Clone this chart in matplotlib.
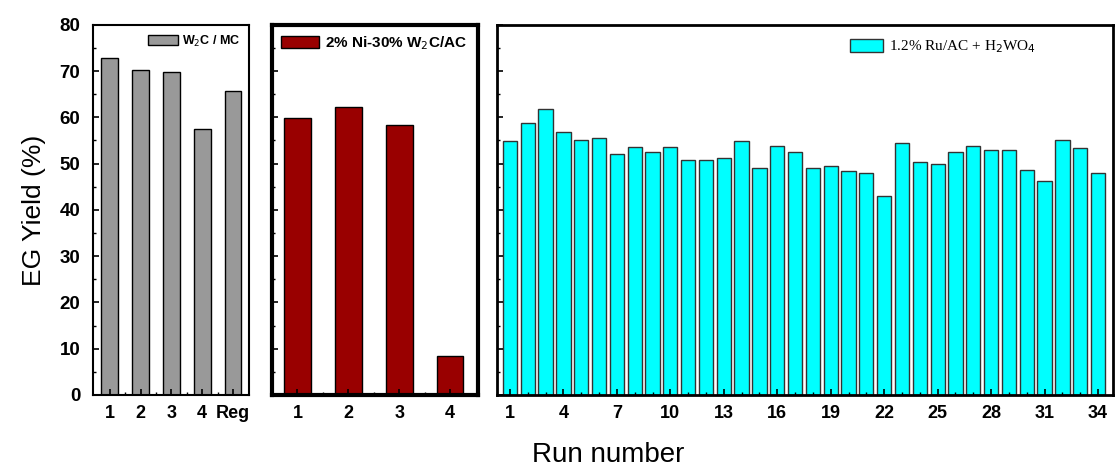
import numpy as np
import matplotlib.pyplot as plt
from matplotlib.ticker import MultipleLocator, FixedLocator

# data
wc_labels = ['1', '2', '3', '4', 'Reg']
wc_yield = [72.9, 70.3, 69.9, 57.4, 65.7]

ni_labels = ['1', '2', '3', '4']
ni_yield = [59.8, 62.3, 58.4, 8.5]

ru_runs = list(range(1, 35))
ru_yield = [54.9, 58.7, 61.9, 56.9, 55.2, 55.5, 52.0, 53.6, 52.6, 53.6,
            50.7, 50.7, 51.2, 54.9, 49.1, 53.9, 52.6, 49.0, 49.4, 48.3,
            47.9, 43.0, 54.4, 50.4, 49.9, 52.6, 53.9, 53.0, 53.0, 48.6,
            46.3, 55.2, 53.3, 47.9]

plt.rcParams['font.family'] = ['Liberation Sans', 'DejaVu Sans']

fig = plt.figure(figsize=(11.16, 4.68), dpi=100)
bottom, height = 0.156, 0.791
ax1 = fig.add_axes([0.0833, bottom, 0.1398, height])
ax2 = fig.add_axes([0.2437, bottom, 0.1846, height])
ax3 = fig.add_axes([0.4453, bottom, 0.5520, height])


def style(ax, lw):
    ax.set_ylim(0, 80)
    ax.yaxis.set_major_locator(MultipleLocator(10))
    ax.yaxis.set_minor_locator(MultipleLocator(5))
    ax.tick_params(which='both', direction='in', top=False, right=False)
    ax.tick_params(which='major', length=4, width=1.2)
    ax.tick_params(which='minor', length=2, width=1)
    ax.tick_params(axis='x', labelsize=13, pad=7)
    for s in ax.spines.values():
        s.set_linewidth(lw)
    for lab in ax.get_xticklabels():
        lab.set_fontweight('bold')


# panel 1: W2C/MC
x1 = np.arange(1, len(wc_yield) + 1)
ax1.bar(x1, wc_yield, width=0.55, color='#999999', edgecolor='black',
        linewidth=1, label='W$_2$C / MC')
ax1.set_xlim(0.45, 5.52)
ax1.set_xticks(x1)
ax1.set_xticklabels(wc_labels)
ax1.xaxis.set_minor_locator(FixedLocator(x1[:-1] + 0.5))
style(ax1, 1.5)
ax1.tick_params(axis='y', labelsize=13.5, pad=9)
for lab in ax1.get_yticklabels():
    lab.set_fontweight('bold')
ax1.set_ylabel('EG Yield (%)', fontsize=19, labelpad=10)
ax1.legend(loc='upper right', frameon=False, prop={'weight': 'bold', 'size': 9},
           handlelength=2.4, handleheight=0.9, handletextpad=0.3,
           borderaxespad=0.3)

# panel 2: Ni-W2C/AC
x2 = np.arange(1, len(ni_yield) + 1)
ax2.bar(x2, ni_yield, width=0.53, color='#990000', edgecolor='black',
        linewidth=1, label='2% Ni-30% W$_2$C/AC')
ax2.set_xlim(0.5, 4.55)
ax2.set_xticks(x2)
ax2.set_xticklabels(ni_labels)
ax2.xaxis.set_minor_locator(FixedLocator(x2[:-1] + 0.5))
style(ax2, 3)
ax2.set_yticklabels([])
ax2.legend(loc='upper left', frameon=False, prop={'weight': 'bold', 'size': 11},
           handlelength=2.5, handleheight=0.8, handletextpad=0.4,
           borderaxespad=0.2)

# panel 3: Ru/AC + H2WO4
ax3.bar(ru_runs, ru_yield, width=0.8, color='#00ffff', edgecolor='#333333',
        linewidth=1, label='1.2% Ru/AC + H$_2$WO$_4$')
ax3.set_xlim(0.27, 34.84)
ax3.set_xticks(ru_runs[::3])
ax3.xaxis.set_minor_locator(MultipleLocator(1))
style(ax3, 2)
ax3.set_yticklabels([])
ax3.legend(loc='upper left', bbox_to_anchor=(0.55, 1.0), frameon=False,
           prop={'family': 'Liberation Serif', 'size': 11},
           handlelength=2.2, handleheight=0.9, handletextpad=0.4)

fig.text(0.545, 0.028, 'Run number', fontsize=20, ha='center', va='center')

fig.savefig('out.png', dpi=100)
